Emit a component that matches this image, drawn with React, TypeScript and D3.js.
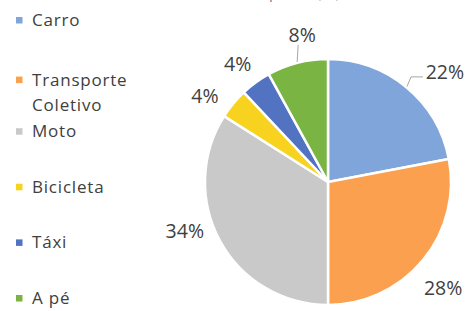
import React from 'react';
import * as d3 from 'd3';

// modal share, clockwise from 12 o'clock
const categories = ['Carro', 'Transporte Coletivo', 'Moto', 'Bicicleta', 'Táxi', 'A pé'];
const shares = [22, 28, 34, 4, 4, 8];
const labels = ['22%', '28%', '34%', '4%', '4%', '8%'];
const legendLines = [['Carro'], ['Transporte', 'Coletivo'], ['Moto'], ['Bicicleta'], ['Táxi'], ['A pé']];
const colors = ['#7fa5da', '#fba04e', '#c9c9c9', '#f7d21e', '#5173c2', '#7ab544'];

// small hand nudges for where the label ends up next to the slice
const labelNudge: [number, number][] = [[20, 7], [-2, 9], [-10, -24], [-6, 11], [-1, 5], [12, 0]];
const hasLeader = [true, false, false, false, false, true];

const W = 469;
const H = 311;

const App = () => {
  const cx = 328;
  const cy = 182;
  const radius = 123;
  const labelRadius = 152;

  const pie = d3.pie<number>().sort(null).value((d) => d);
  const arcs = pie(shares);
  const arc = d3.arc<d3.PieArcDatum<number>>().innerRadius(0).outerRadius(radius);

  const polar = (a: number, r: number): [number, number] => [Math.sin(a) * r, -Math.cos(a) * r];

  const legendY = d3.scalePoint<string>().domain(categories).range([20, 298]);

  return (
    <svg
      width={W}
      height={H}
      style={{ position: 'absolute', left: 0, top: 0, background: '#fff' }}
      fontFamily="'Open Sans', sans-serif"
    >
      {/* title, cut off at the top in the source scan */}
      <text x={250} y={-2} textAnchor="middle" fontSize={17} fill="#8a8a8a">
        Meio de transporte (%)
      </text>

      <g transform={`translate(${cx},${cy})`}>
        {arcs.map((d, i) => (
          <path key={categories[i]} d={arc(d) || ''} fill={colors[i]} stroke="#fff" strokeWidth={2.5} />
        ))}
        {arcs.map((d, i) => {
          const mid = (d.startAngle + d.endAngle) / 2;
          const [lx0, ly0] = polar(mid, labelRadius);
          const lx = lx0 + labelNudge[i][0];
          const ly = ly0 + labelNudge[i][1];
          let leader = null;
          if (hasLeader[i]) {
            const [ex, ey] = polar(mid, radius + 1);
            const pts =
              ex > 0
                ? [[ex, ey], [ex + 4, ly + 5], [lx - 22, ly + 5]]
                : [[ex, ey], [ex + 1, ly + 10]];
            leader = (
              <path d={d3.line()(pts as [number, number][]) || ''} fill="none" stroke="#a6a6a6" strokeWidth={1} />
            );
          }
          return (
            <g key={'l' + i}>
              {leader}
              <text x={lx} y={ly} dy="0.36em" textAnchor="middle" fontSize={19.5} fill="#404040">
                {labels[i]}
              </text>
            </g>
          );
        })}
      </g>

      <g>
        {categories.map((c, i) => {
          const y = legendY(c) as number;
          const off = legendLines[i].length > 1 ? 4 : 0;
          return (
            <g key={'lg' + i}>
              <rect x={16} y={y - 3 + off} width={6.5} height={6.5} fill={colors[i]} />
              {legendLines[i].map((t, j) => (
                <text
                  key={t}
                  x={32}
                  y={y + 6 + off + j * 25}
                  fontSize={17}
                  letterSpacing={0.8}
                  fill="#404040"
                >
                  {t}
                </text>
              ))}
            </g>
          );
        })}
      </g>
    </svg>
  );
};

export default App;
